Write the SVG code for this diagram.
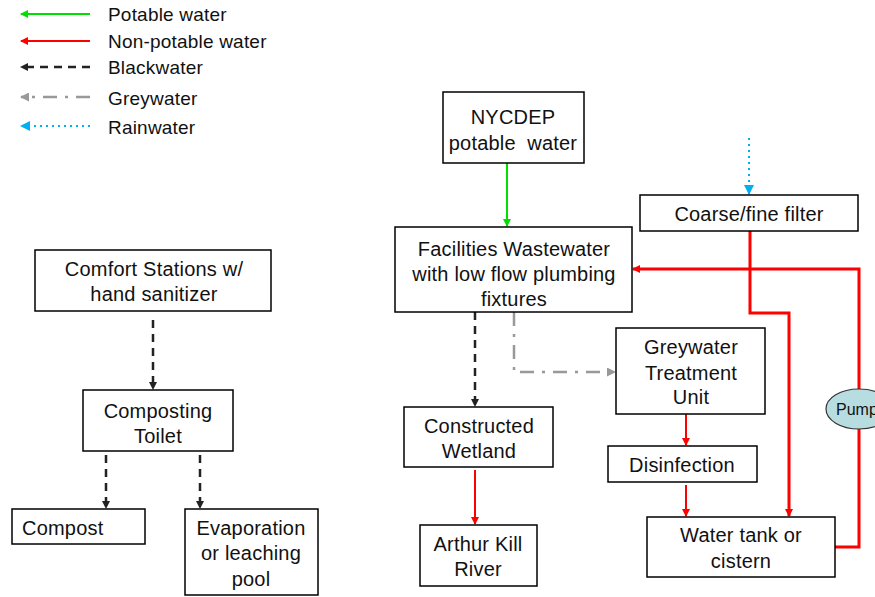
<svg xmlns="http://www.w3.org/2000/svg" width="875" height="597" viewBox="0 0 875 597">
<style>
.box{fill:#fff;stroke:#000;stroke-width:1.5}
text{font-family:"Liberation Sans",Arial,sans-serif;font-size:20px;fill:#111;letter-spacing:0.2px}
.lg{font-size:19px}
.c{text-anchor:middle}
.g{stroke:#00e000;stroke-width:2;fill:none}
.r{stroke:#ff0000;stroke-width:2;fill:none}
.r3{stroke:#ff0000;stroke-width:3;fill:none}
.k{stroke:#222;stroke-width:2.5;stroke-dasharray:8,6;fill:none}
.gr{stroke:#999;stroke-width:2.5;stroke-dasharray:14,8,3,8;fill:none}
.b{stroke:#00b0f0;stroke-width:2;stroke-dasharray:2,4;fill:none}
</style>
<defs>
<marker id="mg" markerWidth="8" markerHeight="8" refX="7" refY="4" orient="auto" markerUnits="userSpaceOnUse"><path d="M0,0 L8,4 L0,8 z" fill="#00e000"/></marker>
<marker id="mr" markerWidth="8" markerHeight="8" refX="7" refY="4" orient="auto" markerUnits="userSpaceOnUse"><path d="M0,0 L8,4 L0,8 z" fill="#ff0000"/></marker>
<marker id="mk" markerWidth="8" markerHeight="8" refX="7" refY="4" orient="auto" markerUnits="userSpaceOnUse"><path d="M0,0 L8,4 L0,8 z" fill="#222"/></marker>
<marker id="mgr" markerWidth="9" markerHeight="9" refX="8" refY="4.5" orient="auto" markerUnits="userSpaceOnUse"><path d="M0,0 L9,4.5 L0,9 z" fill="#999"/></marker>
<marker id="mb" markerWidth="10" markerHeight="10" refX="9" refY="5" orient="auto" markerUnits="userSpaceOnUse"><path d="M0,0 L10,5 L0,10 z" fill="#00b0f0"/></marker>
</defs>

<g id="legend">
<line class="g" x1="90" y1="14" x2="21" y2="14" marker-end="url(#mg)"/>
<line class="r" x1="90" y1="41" x2="21" y2="41" marker-end="url(#mr)"/>
<line class="k" x1="90" y1="67" x2="21" y2="67" marker-end="url(#mk)"/>
<line class="gr" x1="90" y1="97" x2="21" y2="97" marker-end="url(#mgr)"/>
<line class="b" x1="90" y1="126" x2="21" y2="126" marker-end="url(#mb)"/>
<text class="lg" x="108" y="21">Potable water</text>
<text class="lg" x="108" y="48">Non-potable water</text>
<text class="lg" x="108" y="74">Blackwater</text>
<text class="lg" x="108" y="105">Greywater</text>
<text class="lg" x="108" y="134">Rainwater</text>
</g>

<g id="connectors">
<line class="g" x1="507" y1="163" x2="507" y2="226" marker-end="url(#mg)"/>
<line class="b" x1="749" y1="138" x2="749" y2="194" marker-end="url(#mb)"/>
<polyline class="r3" points="750,231 750,313 789,313 789,516" marker-end="url(#mr)"/>
<polyline class="r3" points="835,547 859,547 859,269 633,269" marker-end="url(#mr)"/>
<line class="k" x1="475" y1="312" x2="475" y2="406" marker-end="url(#mk)"/>
<polyline class="gr" points="514,312 514,372 615,372" marker-end="url(#mgr)"/>
<line class="r" x1="686" y1="414" x2="686" y2="445" marker-end="url(#mr)"/>
<line class="r" x1="686" y1="485" x2="686" y2="516" marker-end="url(#mr)"/>
<line class="r" x1="475" y1="470" x2="475" y2="524" marker-end="url(#mr)"/>
<line class="k" x1="153" y1="320" x2="153" y2="389" marker-end="url(#mk)"/>
<line class="k" x1="106" y1="455" x2="106" y2="508" marker-end="url(#mk)"/>
<line class="k" x1="200" y1="455" x2="200" y2="508" marker-end="url(#mk)"/>
</g>

<g id="nycdep">
<rect class="box" x="443" y="92" width="141" height="71"/>
<text class="c" x="513" y="124">NYCDEP</text>
<text class="c" x="513" y="150" xml:space="preserve">potable  water</text>
</g>
<g id="facilities">
<rect class="box" x="395" y="227" width="237" height="85"/>
<text class="c" x="514" y="256">Facilities Wastewater</text>
<text class="c" x="514" y="281">with low flow plumbing</text>
<text class="c" x="514" y="306">fixtures</text>
</g>
<g id="filter">
<rect class="box" x="640" y="195" width="218" height="36"/>
<text class="c" x="749" y="221">Coarse/fine filter</text>
</g>
<g id="comfort">
<rect class="box" x="35" y="250" width="236" height="61"/>
<text class="c" x="154" y="276">Comfort Stations w/</text>
<text class="c" x="154" y="301">hand sanitizer</text>
</g>
<g id="composting">
<rect class="box" x="83" y="390" width="150" height="61"/>
<text class="c" x="158" y="418">Composting</text>
<text class="c" x="158" y="443">Toilet</text>
</g>
<g id="compost">
<rect class="box" x="12" y="509" width="133" height="35"/>
<text x="22" y="535">Compost</text>
</g>
<g id="evaporation">
<rect class="box" x="185" y="509" width="133" height="86"/>
<text class="c" x="251" y="535">Evaporation</text>
<text class="c" x="251" y="560">or leaching</text>
<text class="c" x="251" y="586">pool</text>
</g>
<g id="greywater">
<rect class="box" x="616" y="328" width="149" height="86"/>
<text class="c" x="691" y="354">Greywater</text>
<text class="c" x="691" y="380">Treatment</text>
<text class="c" x="691" y="404">Unit</text>
</g>
<g id="wetland">
<rect class="box" x="404" y="407" width="149" height="60"/>
<text class="c" x="479" y="433">Constructed</text>
<text class="c" x="479" y="458">Wetland</text>
</g>
<g id="disinfection">
<rect class="box" x="608" y="446" width="149" height="36"/>
<text class="c" x="682" y="472">Disinfection</text>
</g>
<g id="arthur">
<rect class="box" x="420" y="525" width="117" height="61"/>
<text class="c" x="478" y="551">Arthur Kill</text>
<text class="c" x="478" y="576">River</text>
</g>
<g id="tank">
<rect class="box" x="647" y="517" width="188" height="60"/>
<text class="c" x="741" y="542">Water tank or</text>
<text class="c" x="741" y="568">cistern</text>
</g>
<g id="pump">
<ellipse cx="859" cy="409" rx="33" ry="20" fill="#b7dde0" stroke="#333" stroke-width="1.2"/>
<text x="836" y="415" style="font-size:16px;letter-spacing:0">Pump</text>
</g>
</svg>
